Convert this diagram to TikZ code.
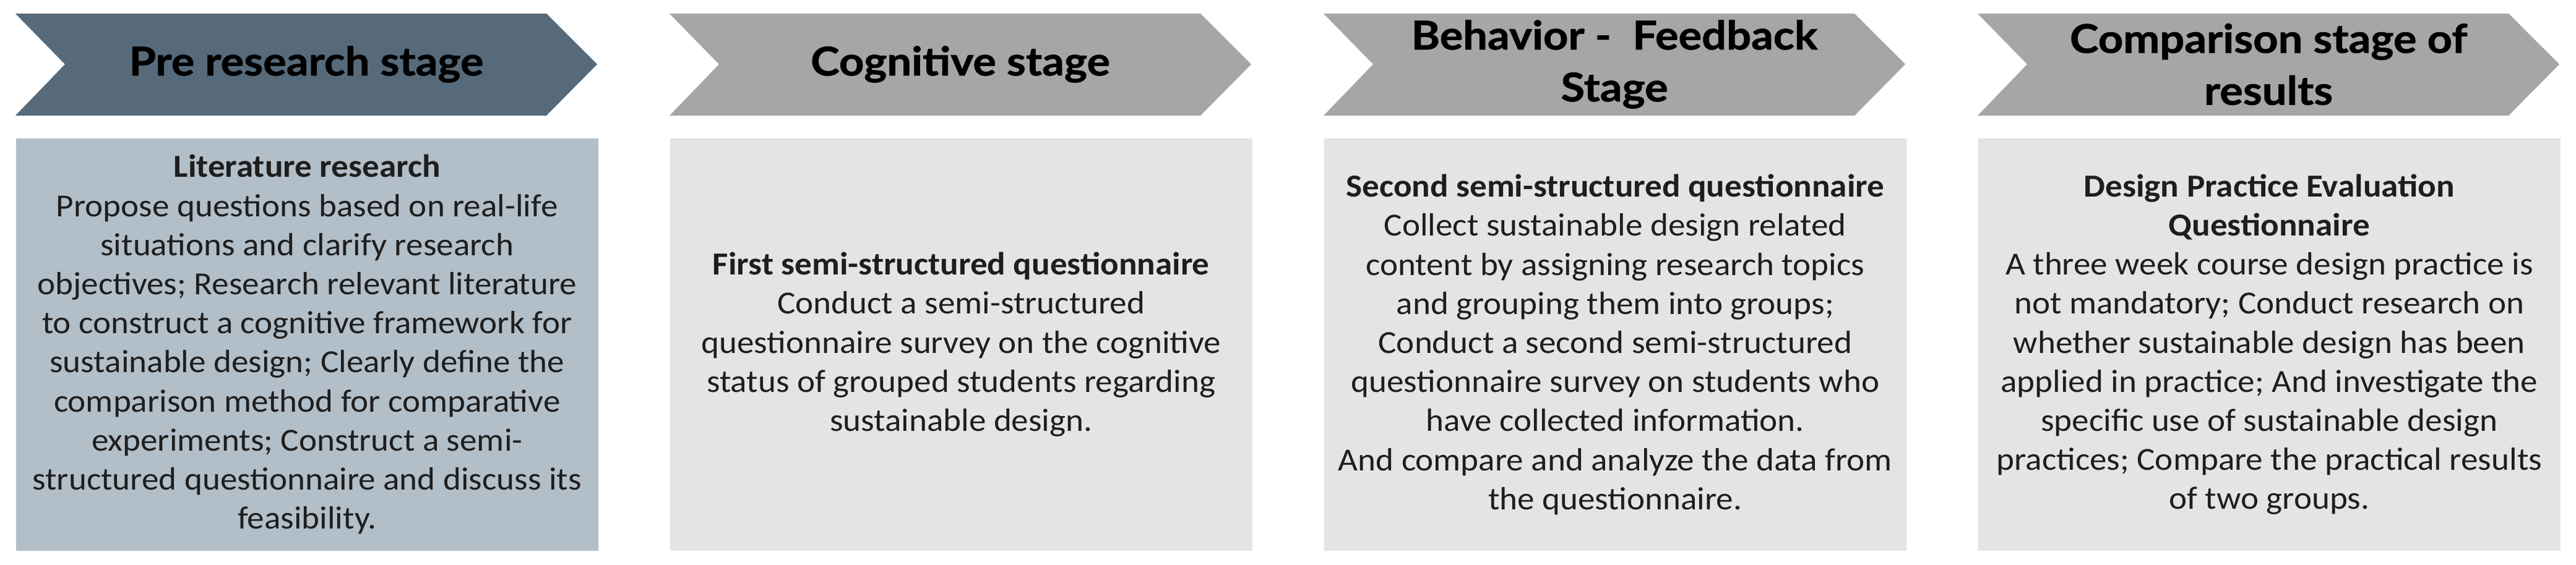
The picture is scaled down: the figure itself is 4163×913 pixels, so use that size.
\documentclass[tikz,border=0pt]{standalone}
\usepackage{fontspec}
\setmainfont{Carlito}[FakeStretch=1.06]
\newfontfamily\headfont{Lato}[FakeStretch=1.1, BoldFeatures={FakeBold=1.2}]
\definecolor{darkchev}{HTML}{566A7A}
\definecolor{darkbox}{HTML}{B2BEC8}
\definecolor{graychev}{HTML}{A6A6A6}
\definecolor{graybox}{HTML}{E4E4E4}
\definecolor{txt}{HTML}{1E1E1E}
\tikzset{
  headtext/.style={align=center, inner sep=0pt, text=black,
    font=\headfont\bfseries\fontsize{16}{21}\selectfont},
  boxnode/.style={align=center, inner sep=0pt, anchor=north west,
    minimum width=235.25pt, minimum height=166.75pt, text=txt,
    font=\fontsize{13}{15.8}\selectfont},
}
\begin{document}
\begin{tikzpicture}[x=0.25pt, y=-0.25pt]
\useasboundingbox (0,0) rectangle (4163,913);
% chevrons
\fill[darkchev] (25,22) -- (883,22) -- (965,104) -- (883,187) -- (25,187) -- (105,104) -- cycle;
\fill[graychev] (1082,22) -- (1940,22) -- (2022,104) -- (1940,187) -- (1082,187) -- (1162,104) -- cycle;
\fill[graychev] (2139,22) -- (2997,22) -- (3079,104) -- (2997,187) -- (2139,187) -- (2219,104) -- cycle;
\fill[graychev] (3196,22) -- (4054,22) -- (4136,104) -- (4054,187) -- (3196,187) -- (3276,104) -- cycle;
\node[headtext] (h1) at (495,104) {Pre research stage};
\node[headtext] (h2) at (1552,104) {Cognitive stage};
\node[headtext] (h3) at (2609,104) {Behavior -\ \ Feedback\\Stage};
\node[headtext] (h4) at (3666,104) {Comparison stage of\\results};
% boxes
\node[boxnode, fill=darkbox] (b1) at (25,223) {\textbf{Literature research}\\
Propose questions based on real-life\\
situations and clarify research\\
objectives; Research relevant literature\\
to construct a cognitive framework for\\
sustainable design; Clearly define the\\
comparison method for comparative\\
experiments; Construct a semi-\\
structured questionnaire and discuss its\\
feasibility.};
\node[boxnode, fill=graybox] (b2) at (1082,223) {\textbf{First semi-structured questionnaire}\\
Conduct a semi-structured\\
questionnaire survey on the cognitive\\
status of grouped students regarding\\
sustainable design.};
\node[boxnode, fill=graybox] (b3) at (2139,223) {\textbf{Second semi-structured questionnaire}\\
Collect sustainable design related\\
content by assigning research topics\\
and grouping them into groups;\\
Conduct a second semi-structured\\
questionnaire survey on students who\\
have collected information.\\
And compare and analyze the data from\\
the questionnaire.};
\node[boxnode, fill=graybox] (b4) at (3196,223) {\textbf{Design Practice Evaluation}\\
\textbf{Questionnaire}\\
A three week course design practice is\\
not mandatory; Conduct research on\\
whether sustainable design has been\\
applied in practice; And investigate the\\
specific use of sustainable design\\
practices; Compare the practical results\\
of two groups.};
\end{tikzpicture}
\end{document}
